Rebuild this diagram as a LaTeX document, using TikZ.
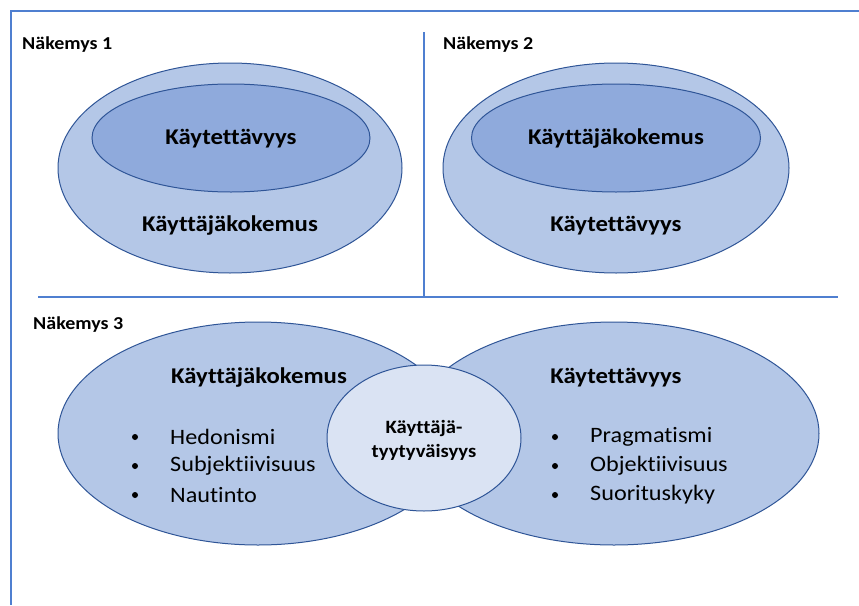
\documentclass[tikz,border=0pt]{standalone}
\usepackage{fontspec}
\setmainfont[FakeStretch=1.1,Ligatures={NoCommon}]{Carlito}
\usetikzlibrary{shapes.geometric}
\definecolor{lineblue}{HTML}{4F7FD0}
\definecolor{edgeblue}{HTML}{2F5597}
\definecolor{outerfill}{HTML}{B4C7E7}
\definecolor{innerfill}{HTML}{8FAADC}
\definecolor{circfill}{HTML}{DAE3F3}
\begin{document}
\begin{tikzpicture}[x=1pt,y=-1pt,
  blob/.style={ellipse, draw=edgeblue, line width=1pt, inner sep=0pt},
  frameline/.style={draw=lineblue, line width=2pt},
  head/.style={font=\fontsize{18.2}{20}\selectfont\bfseries, anchor=west, inner sep=0pt},
  big/.style={font=\fontsize{22.5}{26}\selectfont\bfseries, inner sep=0pt},
  small/.style={font=\fontsize{18.8}{24}\selectfont\bfseries, inner sep=0pt, align=center},
  item/.style={font=\fontsize{22}{26}\selectfont, anchor=west, inner sep=0pt},
  dot/.style={circle, fill=black, inner sep=0pt, minimum size=6pt}]
\useasboundingbox (0,0) rectangle (859,605);
\fill[white] (0,0) rectangle (859,605);
% frame
\coordinate (tl) at (11,10.7);
\coordinate (tr) at (859,10.7);
\coordinate (bl) at (11,605);
\coordinate (vt) at (424,32);
\coordinate (vb) at (424,297);
\coordinate (hl) at (38,297);
\coordinate (hr) at (838,297);
\draw[frameline] (tr) -- (tl) -- (bl);
\draw[frameline] (vt) -- (vb);
\draw[frameline] (hl) -- (hr);
% view 1
\node[head] (h1) at (22,45) {Näkemys 1};
\node[blob, fill=outerfill, minimum width=344pt, minimum height=210pt] (o1) at (230,168) {};
\node[blob, fill=innerfill, minimum width=278pt, minimum height=108pt] (i1) at (231,138) {};
\node[big] (t1a) at (231,139) {Käytettävyys};
\node[big] (t1b) at (230,226) {Käyttäjäkokemus};
% view 2
\node[head] (h2) at (443,45) {Näkemys 2};
\node[blob, fill=outerfill, minimum width=346pt, minimum height=210pt] (o2) at (616,168) {};
\node[blob, fill=innerfill, minimum width=289pt, minimum height=108pt] (i2) at (616,138) {};
\node[big] (t2a) at (616,139) {Käyttäjäkokemus};
\node[big] (t2b) at (616,226) {Käytettävyys};
% view 3
\node[head] (h3) at (33,325) {Näkemys 3};
\node[blob, fill=outerfill, minimum width=400pt, minimum height=223pt] (L) at (258,433.5) {};
\node[blob, fill=outerfill, minimum width=410pt, minimum height=223pt] (R) at (614,433.5) {};
\node[blob, fill=circfill, minimum width=194pt, minimum height=146pt] (C) at (424,438) {};
\node[big] (tL) at (259,378) {Käyttäjäkokemus};
\node[big] (tR) at (616,378) {Käytettävyys};
\node[small] (tC) at (424,440) {Käyttäjä-\\tyytyväisyys};
\node[dot] (dL1) at (135,437) {};
\node[dot] (dL2) at (135,466) {};
\node[dot] (dL3) at (135,495) {};
\node[item] (xL1) at (170,437) {Hedonismi};
\node[item] (xL2) at (170,466) {Subjektiivisuus};
\node[item] (xL3) at (170,495) {Nautinto};
\node[dot] (dR1) at (555,437) {};
\node[dot] (dR2) at (555,466) {};
\node[dot] (dR3) at (555,495) {};
\node[item] (xR1) at (590,437) {Pragmatismi};
\node[item] (xR2) at (590,466) {Objektiivisuus};
\node[item] (xR3) at (590,495) {Suorituskyky};
\end{tikzpicture}
\end{document}
